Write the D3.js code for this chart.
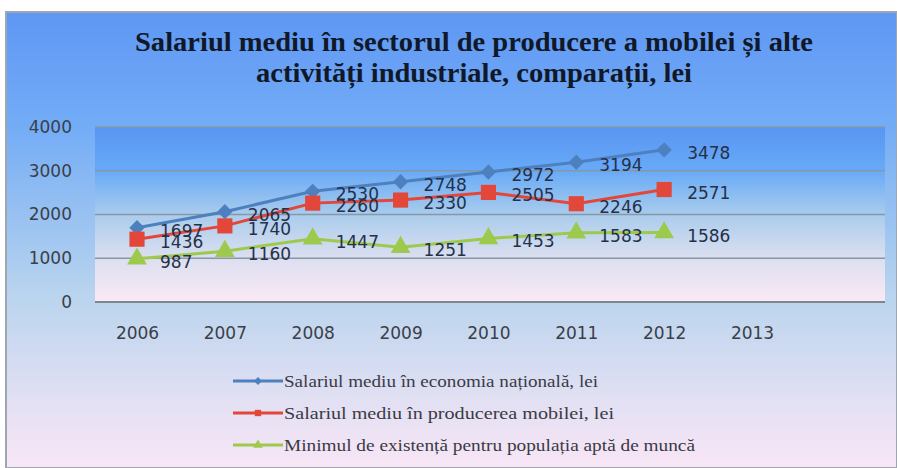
<!DOCTYPE html>
<html>

<head>
    <meta charset="utf-8">
    <script src="https://d3js.org/d3.v7.min.js"></script>
    <style>
        body { margin: 0; background: #fff; }
    </style>
    <script>
        const w = 897
        const h = 468
        // data
        const years = ["2006", "2007", "2008", "2009", "2010", "2011", "2012", "2013"]
        const national = [1697, 2065, 2530, 2748, 2972, 3194, 3478]
        const furniture = [1436, 1740, 2260, 2330, 2505, 2246, 2571]
        const minimum = [987, 1160, 1447, 1251, 1453, 1583, 1586]
        const yTicks = [0, 1000, 2000, 3000, 4000]
        const seriesNames = [
            "Salariul mediu în economia națională, lei",
            "Salariul mediu în producerea mobilei, lei",
            "Minimul de existență pentru populația aptă de muncă"
        ]
        const titleLines = [
            "Salariul mediu în sectorul de producere a mobilei și alte",
            "activități industriale, comparații, lei"
        ]

        const plot = { left: 95, right: 885, top: 127, bottom: 302 }

        function doSVG() {
            const svg = d3.select("body").append("svg")
                .attr("width", w)
                .attr("height", h)

            const defs = svg.append("defs")
            const outerGrad = defs.append("linearGradient").attr("id", "outerGrad")
                .attr("x1", 0).attr("y1", 0).attr("x2", 0).attr("y2", 1)
            outerGrad.selectAll("stop")
                .data([[0, "#5e97f4"], [0.25, "#73acf6"], [0.62, "#b9d4ee"], [0.85, "#e2e0f3"], [1, "#f8e6f6"]])
                .join("stop").attr("offset", d => d[0]).attr("stop-color", d => d[1])
            const plotGrad = defs.append("linearGradient").attr("id", "plotGrad")
                .attr("x1", 0).attr("y1", 0).attr("x2", 0).attr("y2", 1)
            plotGrad.selectAll("stop")
                .data([[0, "#5995f2"], [0.25, "#68aaf7"], [0.5, "#a9ccec"], [0.75, "#dcdff0"], [1, "#fbe9f5"]])
                .join("stop").attr("offset", d => d[0]).attr("stop-color", d => d[1])

            // chart background
            svg.append("rect")
                .attr("x", 6).attr("y", 12)
                .attr("width", w - 6).attr("height", h - 12)
                .attr("fill", "url(#outerGrad)")
                .attr("stroke", "#9ea6b0").attr("stroke-width", 2)

            // title
            svg.append("g").selectAll("text")
                .data(titleLines)
                .join("text")
                .attr("x", 474)
                .attr("y", (d, i) => 51 + i * 31)
                .attr("text-anchor", "middle")
                .attr("font-family", "'Liberation Serif', serif")
                .attr("font-weight", "bold")
                .attr("font-size", 27)
                .attr("fill", "#111827")
                .attr("textLength", (d, i) => i === 0 ? 678 : 436)
                .attr("lengthAdjust", "spacingAndGlyphs")
                .text(d => d)

            const x = d3.scalePoint().domain(years).range([137, 752])
            const y = d3.scaleLinear().domain([0, 4000]).range([plot.bottom, plot.top])

            svg.append("rect")
                .attr("x", plot.left).attr("y", plot.top)
                .attr("width", plot.right - plot.left).attr("height", plot.bottom - plot.top)
                .attr("fill", "url(#plotGrad)")

            // gridlines
            svg.append("g").selectAll("line")
                .data(yTicks)
                .join("line")
                .attr("x1", plot.left).attr("x2", plot.right)
                .attr("y1", d => y(d)).attr("y2", d => y(d))
                .attr("stroke", d => d === 0 ? "#7d8792" : "#8797a8")
                .attr("stroke-width", d => d === 0 ? 2 : 1.5)

            // y axis labels
            const yAxis = svg.append("g")
                .attr("transform", `translate(${plot.left - 23},0)`)
                .call(d3.axisLeft(y).tickValues(yTicks).tickFormat(d3.format("d")).tickSize(0).tickPadding(0))
            yAxis.select(".domain").remove()
            yAxis.selectAll("text")
                .attr("font-family", "'DejaVu Sans', sans-serif")
                .attr("font-size", 17)
                .attr("fill", "#3a3f48")

            // x axis labels
            const xAxis = svg.append("g")
                .attr("transform", `translate(0,${plot.bottom + 25})`)
                .call(d3.axisBottom(x).tickSize(0).tickPadding(0))
            xAxis.select(".domain").remove()
            xAxis.selectAll("text")
                .attr("font-family", "'DejaVu Sans', sans-serif")
                .attr("font-size", 17)
                .attr("fill", "#3a3f48")

            const series = [
                { name: seriesNames[0], values: national, color: "#4d80bf", marker: d3.symbolDiamond2, size: 150 },
                { name: seriesNames[1], values: furniture, color: "#e2473a", marker: d3.symbolSquare, size: 230 },
                { name: seriesNames[2], values: minimum, color: "#9dca4c", marker: d3.symbolTriangle, size: 170 }
            ]

            const line = d3.line()
                .x((d, i) => x(years[i]))
                .y(d => y(d))

            series.forEach(s => {
                const g = svg.append("g")
                g.append("path")
                    .attr("d", line(s.values))
                    .attr("fill", "none")
                    .attr("stroke", s.color)
                    .attr("stroke-width", 3)
                g.selectAll("path.pt")
                    .data(s.values)
                    .join("path")
                    .attr("class", "pt")
                    .attr("d", d3.symbol().type(s.marker).size(s.size))
                    .attr("transform", (d, i) => `translate(${x(years[i])},${y(d)})`)
                    .attr("fill", s.color)
            })

            // data labels, to the right of the points
            series.forEach(s => {
                svg.append("g").selectAll("text")
                    .data(s.values)
                    .join("text")
                    .attr("x", (d, i) => x(years[i]) + 23)
                    .attr("y", d => y(d) + 3)
                    .attr("dominant-baseline", "central")
                    .attr("font-family", "'DejaVu Sans', sans-serif")
                    .attr("font-size", 17)
                    .attr("fill", "#25304a")
                    .text(d => d)
            })

            // legend
            const legend = svg.append("g").selectAll("g")
                .data(series)
                .join("g")
                .attr("transform", (d, i) => `translate(233,${381 + i * 32})`)
            legend.append("line")
                .attr("x1", 0).attr("x2", 50)
                .attr("stroke", d => d.color)
                .attr("stroke-width", 3)
            legend.append("path")
                .attr("d", d => d3.symbol().type(d.marker).size(40)())
                .attr("transform", "translate(25,0)")
                .attr("fill", d => d.color)
            legend.append("text")
                .attr("x", 51)
                .attr("y", 0)
                .attr("dominant-baseline", "central")
                .attr("font-family", "'Liberation Serif', serif")
                .attr("font-size", 16)
                .attr("fill", "#3a3a44")
                .attr("textLength", (d, i) => [314, 330, 411][i])
                .attr("lengthAdjust", "spacingAndGlyphs")
                .text(d => d.name)
        }
    </script>
</head>

<body onload="doSVG()">
</body>

</html>
